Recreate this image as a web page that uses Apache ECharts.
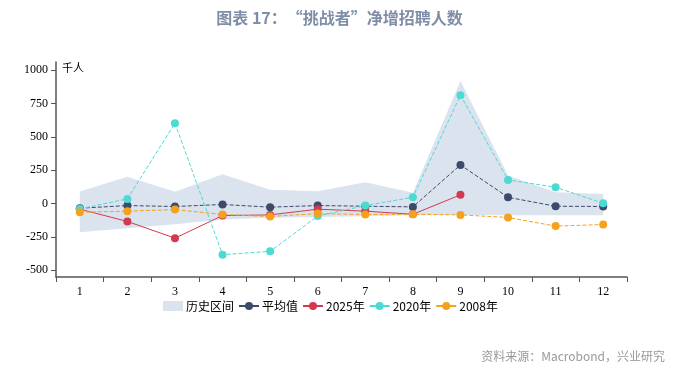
<!DOCTYPE html>
<html>
<head>
<meta charset="utf-8">
<script src="https://cdn.jsdelivr.net/npm/echarts@6/dist/echarts.min.js"></script>
<style>html,body{margin:0;padding:0;background:#fff}#c{width:679px;height:373px}</style>
</head>
<body>
<div id="c"></div>
<script>
const months = ['1','2','3','4','5','6','7','8','9','10','11','12'];
const bandUpper = [90, 200, 88, 220, 104, 92, 159, 80, 918, 211, 85, 72];
const bandLower = [-214, -185, -155, -120, -107, -100, -95, -87, -85, -87, -87, -87];
const meanVals = [-35, -15, -22, -7, -27, -15, -20, -25, 289, 47, -20, -22];
const y2025 = [-42, -134, -259, -90, -85, -42, -57, -80, 65];
const y2020 = [-40, 35, 602, -383, -358, -94, -15, 47, 811, 177, 122, 2];
const y2008 = [-65, -57, -45, -82, -97, -75, -82, -80, -85, -104, -169, -157];
const yTicks = [-500, -250, 0, 250, 500, 750, 1000];

const bandDiff = bandUpper.map((v, i) => v - bandLower[i]);
const chart = echarts.init(document.getElementById('c'));
const cjk = '"Noto Sans CJK SC", sans-serif';
const lineSeries = (name, data, color, dashed) => ({
  name, type: 'line', data, symbol: 'circle', symbolSize: 8,
  itemStyle: { color }, lineStyle: { color, width: 1, type: dashed ? 'dashed' : 'solid' },
  z: 5
});
chart.setOption({
  animation: false,
  title: {
    text: '图表 17：“挑战者”净增招聘人数', left: 'center', top: 5,
    textStyle: { fontFamily: cjk, fontSize: 16, fontWeight: 'bold', color: '#7f8ea8' }
  },
  legend: {
    left: 158, top: 295, itemWidth: 20, itemHeight: 10, itemGap: 4,
    textStyle: { fontFamily: cjk, fontSize: 12, color: '#000', padding: [0, 0, 0, -2] },
    data: [{ name: '历史区间', icon: 'rect' }, '平均值', '2025年', '2020年', '2008年']
  },
  grid: { left: 56, right: 52, top: 62, bottom: 96 },
  xAxis: {
    type: 'category', data: months, boundaryGap: true,
    axisLine: { onZero: false, lineStyle: { color: '#555', width: 1.5 } },
    axisTick: { show: true, length: 5, lineStyle: { color: '#555' } },
    axisLabel: { color: '#000', fontFamily: '"Liberation Serif", serif', fontSize: 12, margin: 9 }
  },
  yAxis: {
    type: 'value', min: -550, max: 1060,
    splitLine: { show: false },
    axisLine: { show: true, lineStyle: { color: '#555', width: 1.5 } },
    axisTick: { show: true, length: 5, customValues: yTicks, lineStyle: { color: '#555' } },
    axisLabel: { color: '#000', fontFamily: '"Liberation Serif", serif', fontSize: 12, customValues: yTicks, margin: 8,
      formatter: v => String(v) }
  },
  graphic: [
    { type: 'text', left: 62, top: 62, style: { text: '千人', font: '11px ' + cjk, fill: '#000' } },
    { type: 'text', right: 14, top: 350, style: { text: '资料来源：Macrobond，兴业研究', font: '12px ' + cjk, fill: '#999' } }
  ],
  series: [
    { name: 'bandLow', type: 'line', data: bandLower, stack: 'band', stackStrategy: 'all',
      symbol: 'none', lineStyle: { opacity: 0 }, areaStyle: { opacity: 0 }, silent: true, z: 1 },
    { name: '历史区间', type: 'line', data: bandDiff, stack: 'band', stackStrategy: 'all',
      symbol: 'none', lineStyle: { opacity: 0 }, itemStyle: { color: '#dbe3ef' },
      areaStyle: { color: '#dbe3ef', opacity: 1 }, silent: true, z: 1 },
    lineSeries('平均值', meanVals, '#3d4b6b', true),
    lineSeries('2025年', y2025, '#d23a50', false),
    lineSeries('2020年', y2020, '#4ddad2', true),
    lineSeries('2008年', y2008, '#f5a11c', true)
  ]
});
</script>
</body>
</html>
